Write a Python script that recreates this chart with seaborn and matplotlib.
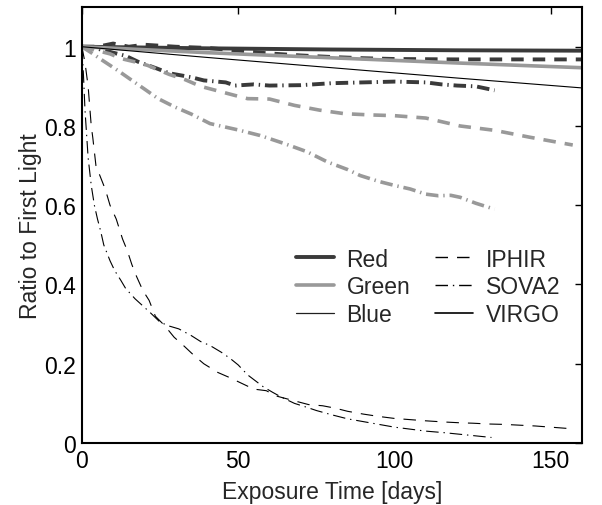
import matplotlib
matplotlib.use("Agg")
import matplotlib.pyplot as plt
from matplotlib.lines import Line2D
from matplotlib.ticker import FormatStrFormatter
import seaborn as sns
import pandas as pd

# values (days, ratio to first light)
channels = ["Red", "Green", "Blue"]
instruments = ["IPHIR", "SOVA2", "VIRGO"]

red_virgo_x = [0, 40, 80, 120, 160]
red_virgo_y = [1.0, 0.996, 0.993, 0.991, 0.99]
green_virgo_x = [0, 40, 80, 120, 160]
green_virgo_y = [1.0, 0.985, 0.972, 0.959, 0.947]
blue_virgo_x = [0, 40, 80, 120, 160]
blue_virgo_y = [1.0, 0.973, 0.947, 0.921, 0.896]

red_iphir_x = [0, 5, 10, 15, 20, 30, 40, 50, 60, 70, 80, 90, 100, 120, 140, 160]
red_iphir_y = [1.0, 1.0, 1.008, 1.0, 1.005, 1.0, 0.997, 0.99, 0.983, 0.978,
               0.974, 0.971, 0.969, 0.968, 0.968, 0.968]
green_iphir_x = [0, 5, 9, 12.6, 17.4, 21, 28, 33, 38, 44.7, 49, 53, 60, 68, 76,
                 84, 92, 100, 110, 121, 132, 143, 150, 157]
green_iphir_y = [1.0, 0.99, 0.982, 0.97, 0.961, 0.953, 0.93, 0.917, 0.9, 0.886,
                 0.877, 0.869, 0.868, 0.852, 0.84, 0.831, 0.828, 0.826, 0.82,
                 0.80, 0.789, 0.772, 0.762, 0.752]
blue_iphir_x = [0, 1, 2, 3, 3.5, 4.5, 5.5, 7.5, 9, 11, 13, 14.5, 16, 17.5, 19.5,
                21.5, 23.5, 26.5, 29.5, 32.5, 36, 39, 43.5, 47, 51, 55, 59, 62,
                67.7, 72.5, 77, 81, 85, 90, 95, 100, 105, 110, 116, 121, 125,
                130, 135, 140, 145, 150, 155, 157]
blue_iphir_y = [1.0, 0.96, 0.9, 0.8, 0.77, 0.7, 0.68, 0.64, 0.6, 0.565, 0.515,
                0.486, 0.45, 0.42, 0.385, 0.36, 0.32, 0.296, 0.267, 0.246, 0.22,
                0.2, 0.178, 0.166, 0.151, 0.136, 0.132, 0.119, 0.107, 0.097,
                0.094, 0.088, 0.08, 0.073, 0.067, 0.062, 0.059, 0.056, 0.053,
                0.051, 0.05, 0.048, 0.047, 0.045, 0.043, 0.04, 0.037, 0.036]

red_sova_x = [0, 5, 10, 14, 18, 24, 28, 35, 39, 46, 49, 55, 60, 70, 80, 90,
              100, 110, 115, 120, 126, 132]
red_sova_y = [1.0, 0.995, 0.985, 0.977, 0.962, 0.945, 0.933, 0.923, 0.915,
              0.91, 0.902, 0.905, 0.902, 0.903, 0.908, 0.91, 0.912, 0.91, 0.905,
              0.902, 0.9, 0.89]
green_sova_x = [0, 3, 6.7, 11.5, 15.3, 20.6, 24.4, 29.7, 35, 41, 50, 57, 65, 72,
                78.6, 85, 89, 95, 100, 105, 110, 114, 118, 121, 126, 132]
green_sova_y = [1.0, 0.985, 0.965, 0.94, 0.919, 0.89, 0.869, 0.848, 0.83, 0.806,
                0.79, 0.776, 0.755, 0.735, 0.709, 0.69, 0.675, 0.66, 0.65, 0.641,
                0.628, 0.624, 0.625, 0.62, 0.605, 0.59]
blue_sova_x = [0, 0.5, 1, 2, 3, 4, 5, 6, 7, 9, 10.5, 12.5, 14, 17, 19.5, 22, 25,
               28, 31, 35, 38, 41, 44.6, 47.5, 50, 53, 55.5, 58, 61, 64, 68, 72,
               75, 80, 85, 90, 95, 100, 105, 110, 116, 121, 126, 131]
blue_sova_y = [1.0, 0.93, 0.84, 0.72, 0.65, 0.6, 0.565, 0.535, 0.5, 0.46, 0.435,
               0.41, 0.39, 0.364, 0.346, 0.328, 0.305, 0.295, 0.288, 0.271,
               0.256, 0.246, 0.229, 0.213, 0.197, 0.172, 0.157, 0.142, 0.128,
               0.115, 0.1, 0.09, 0.082, 0.071, 0.061, 0.054, 0.047, 0.04, 0.035,
               0.03, 0.026, 0.022, 0.018, 0.014]

series = [
    ("Red", "VIRGO", red_virgo_x, red_virgo_y),
    ("Green", "VIRGO", green_virgo_x, green_virgo_y),
    ("Blue", "VIRGO", blue_virgo_x, blue_virgo_y),
    ("Red", "IPHIR", red_iphir_x, red_iphir_y),
    ("Green", "IPHIR", green_iphir_x, green_iphir_y),
    ("Blue", "IPHIR", blue_iphir_x, blue_iphir_y),
    ("Red", "SOVA2", red_sova_x, red_sova_y),
    ("Green", "SOVA2", green_sova_x, green_sova_y),
    ("Blue", "SOVA2", blue_sova_x, blue_sova_y),
]
rows = []
for ch, ins, xs, ys in series:
    for x, y in zip(xs, ys):
        rows.append({"days": x, "ratio": y, "channel": ch, "instrument": ins})
df = pd.DataFrame(rows)

sns.set_theme(style="white")
plt.rcParams["font.family"] = ["Liberation Sans", "DejaVu Sans"]
plt.rcParams["lines.scale_dashes"] = False

colors = {"Red": "#3a3a3a", "Green": "#999999", "Blue": "#000000"}
widths = {"Red": 2.8, "Green": 2.6, "Blue": 0.8}
dash = {"IPHIR": (9, 6.5), "SOVA2": (9, 3.5, 1, 3.5), "VIRGO": ""}
fs = 16.5

fig = plt.figure(figsize=(6.02, 5.06), dpi=100)
ax = fig.add_axes([0.136, 0.1225, 0.831, 0.8615])

sns.lineplot(data=df, x="days", y="ratio", hue="channel", size="channel",
             style="instrument", palette=colors, sizes=widths, dashes=dash,
             hue_order=channels, size_order=channels, style_order=instruments,
             estimator=None, sort=False, legend=False, ax=ax)

ax.set_xlim(0, 160)
ax.set_ylim(0, 1.1)
ax.set_xticks([0, 50, 100, 150])
ax.set_yticks([0, 0.2, 0.4, 0.6, 0.8, 1.0])
ax.yaxis.set_major_formatter(FormatStrFormatter("%g"))
ax.tick_params(direction="in", length=5, width=1, top=True, right=True,
               labelsize=fs, pad=4, colors="black")
for s in ax.spines.values():
    s.set_linewidth(1.5)
    s.set_color("black")
ax.set_xlabel("Exposure Time [days]", fontsize=fs, labelpad=6)
ax.set_ylabel("Ratio to First Light", fontsize=fs, labelpad=2)

handles = [
    Line2D([], [], color=colors["Red"], lw=2.8),
    Line2D([], [], color=colors["Green"], lw=2.6),
    Line2D([], [], color="#202020", lw=0.9),
    Line2D([], [], color="black", lw=1.0, dashes=dash["IPHIR"]),
    Line2D([], [], color="black", lw=1.0, dashes=dash["SOVA2"]),
    Line2D([], [], color="black", lw=1.2),
]
labels = channels + instruments
ax.legend(handles, labels, loc="upper left", bbox_to_anchor=(0.419, 0.459),
          ncol=2, frameon=False, fontsize=fs, handlelength=1.65,
          handletextpad=0.55, columnspacing=1.1, labelspacing=0.21,
          borderaxespad=0, borderpad=0.2)

fig.savefig("out.png", dpi=100)
